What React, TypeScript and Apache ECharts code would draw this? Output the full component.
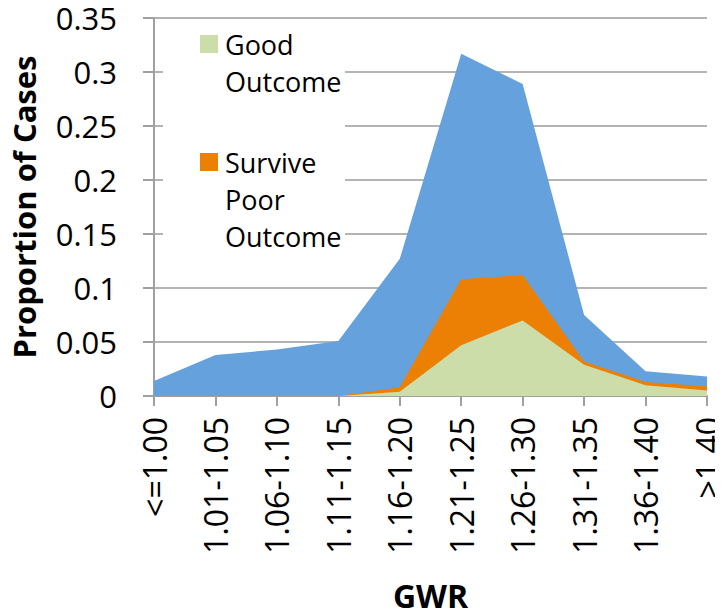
import React, { useEffect, useRef } from "react";
import * as echarts from "echarts";

// GWR bands on the category axis
const categories = [
  "<=1.00", "1.01-1.05", "1.06-1.10", "1.11-1.15", "1.16-1.20",
  "1.21-1.25", "1.26-1.30", "1.31-1.35", "1.36-1.40", ">1.40",
];

// Proportion of cases per band for each outcome group
const deathValues = [0.014, 0.038, 0.043, 0.051, 0.127, 0.317, 0.289, 0.075, 0.023, 0.018];
const survivePoorValues = [0, 0, 0, 0, 0.008, 0.108, 0.112, 0.032, 0.013, 0.009];
const goodValues = [0, 0, 0, 0, 0.004, 0.047, 0.07, 0.029, 0.01, 0.005];

const yTicks = [0, 0.05, 0.1, 0.15, 0.2, 0.25, 0.3, 0.35];

const BLUE = "#65A1DD";
const ORANGE = "#EC8004";
const GREEN = "#CCDDA9";
const FONT = "'Open Sans', sans-serif";

// Legend entries: label lines and swatch colour
const legendItems = [
  { lines: ["Good", "Outcome"], color: GREEN, top: 35 },
  { lines: ["Survive", "Poor", "Outcome"], color: ORANGE, top: 153 },
];

export default function App() {
  const ref = useRef<HTMLDivElement>(null);

  useEffect(() => {
    if (!ref.current) return;
    const chart = echarts.init(ref.current, null, { renderer: "svg" });

    const legendGraphics: any[] = [
      {
        type: "rect",
        shape: { x: 163, y: 26, width: 182, height: 236 },
        style: { fill: "#ffffff" },
        z: 10,
      },
    ];
    legendItems.forEach((item) => {
      legendGraphics.push({
        type: "rect",
        shape: { x: 200, y: item.top, width: 18, height: 18 },
        style: { fill: item.color },
        z: 11,
      });
      legendGraphics.push({
        type: "text",
        x: 225,
        y: item.top - 9,
        style: {
          text: item.lines.join("\n"),
          font: `27px ${FONT}`,
          lineHeight: 37,
          fill: "#000000",
        },
        z: 11,
      });
    });

    chart.setOption({
      animation: false,
      backgroundColor: "#ffffff",
      grid: { left: 153, right: 15, top: 18, bottom: 216, containLabel: false },
      xAxis: {
        type: "category",
        data: categories,
        boundaryGap: false,
        name: "GWR",
        nameLocation: "middle",
        nameGap: 183,
        nameTextStyle: { fontFamily: FONT, fontWeight: "bold", fontSize: 32, color: "#000" },
        axisLine: { lineStyle: { color: "#A0A0A0", width: 2 } },
        axisTick: { alignWithLabel: true, length: 10, lineStyle: { color: "#A0A0A0", width: 2 } },
        axisLabel: {
          rotate: 90,
          margin: 21,
          fontFamily: FONT,
          fontSize: 32,
          color: "#000",
          interval: 0,
        },
        splitLine: { show: false },
      },
      yAxis: {
        type: "value",
        min: 0,
        max: 0.35,
        interval: 0.05,
        name: "Proportion of Cases",
        nameLocation: "middle",
        nameGap: 115,
        nameRotate: 90,
        nameTextStyle: { fontFamily: FONT, fontWeight: "bold", fontSize: 31, color: "#000" },
        axisLine: { show: true, lineStyle: { color: "#A0A0A0", width: 2 } },
        axisTick: { show: true, length: 11, lineStyle: { color: "#A0A0A0", width: 2 } },
        axisLabel: {
          margin: 37,
          fontFamily: FONT,
          fontSize: 31,
          color: "#000",
          formatter: (v: number) => {
            const t = yTicks.find((y) => Math.abs(y - v) < 1e-9);
            return String(t !== undefined ? t : v);
          },
        },
        splitLine: { show: true, lineStyle: { color: "#B4B4B4", width: 2 } },
      },
      series: [
        {
          name: "Death",
          type: "line",
          data: deathValues,
          symbol: "none",
          lineStyle: { width: 0 },
          areaStyle: { color: BLUE, opacity: 1 },
          z: 2,
        },
        {
          name: "Survive Poor Outcome",
          type: "line",
          data: survivePoorValues,
          symbol: "none",
          lineStyle: { width: 0 },
          areaStyle: { color: ORANGE, opacity: 1 },
          z: 3,
        },
        {
          name: "Good Outcome",
          type: "line",
          data: goodValues,
          symbol: "none",
          lineStyle: { width: 0 },
          areaStyle: { color: GREEN, opacity: 1 },
          z: 4,
        },
      ],
      graphic: legendGraphics,
    });

    return () => chart.dispose();
  }, []);

  return <div ref={ref} style={{ width: 723, height: 616, margin: -8 }} />;
}
